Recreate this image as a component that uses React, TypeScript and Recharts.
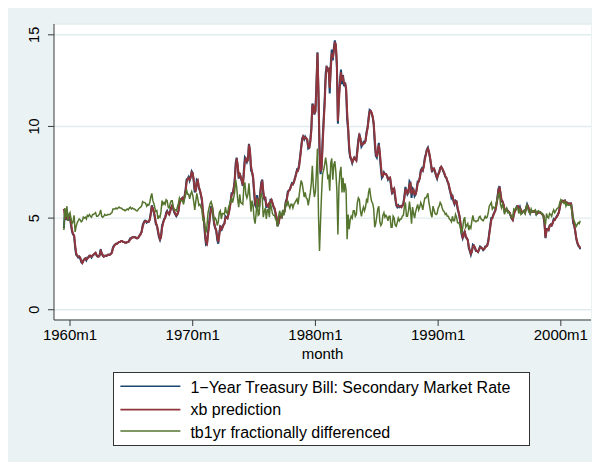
import type { JSX } from "react";
import { LineChart, Line, XAxis, YAxis, CartesianGrid } from "recharts";

// ─── data ─────────────────────────────────────────────────────────────────────
// monthly, 1959m7 .. 2001m8 (one row per year)

const firstMonth = -6; // months relative to 1960m1

const tb1yr: number[] = [
  4.45, 5.3, 4.9, 5.4, 4.85, 5.1,
  5.0, 4.6, 4.25, 4.1, 4.05, 3.4, 3.0, 2.95, 2.85, 2.9, 2.8, 2.6,
  2.55, 2.7, 2.75, 2.8, 2.7, 2.85, 2.85, 2.95, 2.95, 2.85, 2.95, 3.0,
  3.05, 3.1, 2.95, 2.9, 2.9, 3.0, 3.3, 3.05, 2.95, 2.9, 2.95, 2.95,
  2.95, 3.0, 3.0, 3.0, 3.05, 3.15, 3.4, 3.5, 3.55, 3.6, 3.6, 3.65,
  3.7, 3.7, 3.75, 3.75, 3.7, 3.7, 3.65, 3.65, 3.7, 3.7, 3.8, 3.9,
  3.9, 3.95, 3.95, 3.95, 3.95, 3.9, 3.9, 3.95, 4.05, 4.15, 4.25, 4.6,
  4.75, 4.85, 4.85, 4.75, 4.8, 4.8, 4.95, 5.3, 5.7, 5.5, 5.3, 5.0,
  4.65, 4.6, 4.25, 3.95, 3.8, 4.0, 4.6, 4.75, 4.95, 5.0, 5.3, 5.4,
  5.25, 5.2, 5.4, 5.6, 5.7, 5.5, 5.3, 5.2, 5.1, 5.2, 5.4, 5.85,
  6.0, 6.05, 6.1, 5.95, 6.2, 6.55, 7.1, 7.15, 7.25, 7.05, 7.25, 7.55,
  7.45, 7.0, 6.4, 6.55, 7.1, 7.05, 6.6, 6.5, 6.25, 5.95, 5.2, 4.85,
  4.05, 3.55, 3.6, 4.25, 4.7, 5.25, 5.6, 5.6, 5.1, 4.65, 4.45, 4.3,
  3.8, 3.6, 4.2, 4.6, 4.3, 4.5, 4.65, 4.7, 5.1, 5.05, 5.0, 5.25,
  5.55, 5.9, 6.35, 6.35, 6.6, 7.05, 8.0, 8.3, 7.8, 7.15, 7.45, 7.2,
  7.0, 6.75, 7.6, 8.3, 8.2, 8.05, 8.2, 9.05, 8.6, 7.6, 7.5, 7.2,
  6.4, 5.7, 5.6, 6.25, 5.8, 5.6, 6.4, 6.95, 7.1, 6.3, 6.05, 6.1,
  5.55, 5.7, 5.75, 5.5, 6.0, 6.0, 5.8, 5.6, 5.5, 5.25, 5.0, 4.55,
  4.75, 5.1, 5.1, 5.05, 5.3, 5.25, 5.45, 5.9, 6.05, 6.45, 6.5, 6.55,
  6.75, 6.9, 6.85, 7.0, 7.2, 7.4, 7.65, 7.6, 7.9, 8.35, 8.85, 9.35,
  9.45, 9.3, 9.45, 9.35, 9.25, 8.8, 8.85, 9.25, 9.9, 11.25, 11.1, 10.65,
  10.85, 12.35, 14.05, 11.6, 8.55, 7.4, 7.75, 9.25, 10.35, 11.4, 12.9, 13.3,
  13.0, 13.2, 11.8, 13.4, 14.2, 13.6, 14.3, 14.7, 14.4, 13.2, 10.15, 11.7,
  12.5, 13.1, 12.3, 12.8, 12.2, 12.4, 12.0, 10.4, 9.8, 8.7, 8.3, 8.2,
  8.0, 8.2, 8.3, 8.2, 8.15, 8.75, 9.3, 9.6, 9.3, 8.9, 9.0, 9.15,
  9.1, 9.25, 9.7, 9.95, 10.5, 10.9, 10.85, 10.7, 10.5, 10.1, 9.1, 8.4,
  8.3, 8.7, 9.1, 8.4, 7.7, 7.2, 7.3, 7.5, 7.4, 7.4, 7.3, 7.1,
  7.2, 7.2, 6.7, 6.3, 6.6, 6.6, 6.1, 5.7, 5.6, 5.7, 5.6, 5.65,
  5.6, 5.7, 5.8, 6.2, 6.7, 6.5, 6.3, 6.4, 7.0, 6.9, 6.1, 6.6,
  6.5, 6.2, 6.3, 6.6, 7.0, 7.0, 7.2, 7.6, 7.7, 7.6, 7.9, 8.3,
  8.5, 8.75, 8.85, 8.6, 8.3, 7.9, 7.5, 7.7, 7.7, 7.5, 7.3, 7.15,
  7.4, 7.5, 7.75, 7.8, 7.7, 7.55, 7.45, 7.25, 7.2, 7.0, 6.9, 6.6,
  6.4, 6.1, 6.2, 5.9, 5.75, 5.95, 5.9, 5.5, 5.3, 5.05, 4.6, 4.1,
  3.9, 4.1, 4.3, 3.95, 3.9, 3.8, 3.35, 3.2, 3.0, 3.2, 3.55, 3.5,
  3.35, 3.2, 3.2, 3.15, 3.3, 3.45, 3.4, 3.35, 3.25, 3.3, 3.45, 3.45,
  3.5, 3.75, 4.2, 4.6, 5.0, 5.0, 5.2, 5.3, 5.45, 5.75, 6.15, 6.6,
  6.75, 6.3, 5.9, 5.9, 5.7, 5.35, 5.4, 5.5, 5.4, 5.35, 5.25, 5.1,
  4.95, 4.9, 5.25, 5.4, 5.5, 5.65, 5.65, 5.45, 5.6, 5.4, 5.3, 5.35,
  5.4, 5.3, 5.55, 5.75, 5.6, 5.4, 5.25, 5.4, 5.35, 5.35, 5.35, 5.4,
  5.2, 5.25, 5.3, 5.3, 5.3, 5.25, 5.2, 5.1, 4.7, 3.9, 4.4, 4.4,
  4.35, 4.6, 4.65, 4.6, 4.75, 4.95, 4.9, 5.0, 5.1, 5.2, 5.3, 5.6,
  5.9, 5.95, 5.95, 5.9, 5.95, 5.8, 5.85, 5.8, 5.8, 5.8, 5.8, 5.4,
  4.75, 4.6, 4.3, 3.9, 3.65, 3.5, 3.45, 3.3,
];

const xbPred: number[] = [
  5.5, 5.1, 5.0, 5.25, 5.0, 5.05,
  5.05, 4.7, 4.35, 4.15, 4.05, 3.55, 3.1, 2.95, 2.9, 2.9, 2.85, 2.65,
  2.55, 2.65, 2.75, 2.8, 2.75, 2.8, 2.85, 2.95, 2.95, 2.9, 2.95, 3.0,
  3.05, 3.1, 3.0, 2.9, 2.9, 2.95, 3.2, 3.1, 3.0, 2.9, 2.95, 2.95,
  2.95, 3.0, 3.0, 3.0, 3.05, 3.1, 3.35, 3.45, 3.55, 3.6, 3.6, 3.65,
  3.7, 3.7, 3.75, 3.75, 3.7, 3.7, 3.65, 3.65, 3.7, 3.7, 3.75, 3.85,
  3.9, 3.95, 3.95, 3.95, 3.95, 3.9, 3.9, 3.95, 4.05, 4.1, 4.25, 4.5,
  4.7, 4.8, 4.85, 4.8, 4.8, 4.8, 4.9, 5.2, 5.6, 5.55, 5.35, 5.1,
  4.75, 4.6, 4.35, 4.05, 3.85, 3.95, 4.45, 4.7, 4.9, 5.0, 5.2, 5.35,
  5.3, 5.2, 5.35, 5.55, 5.7, 5.55, 5.35, 5.25, 5.15, 5.2, 5.35, 5.75,
  5.95, 6.05, 6.1, 6.0, 6.15, 6.45, 6.95, 7.15, 7.2, 7.1, 7.2, 7.5,
  7.45, 7.1, 6.55, 6.5, 6.95, 7.05, 6.7, 6.55, 6.3, 6.05, 5.4, 4.95,
  4.25, 3.7, 3.6, 4.1, 4.6, 5.1, 5.5, 5.6, 5.25, 4.75, 4.5, 4.35,
  3.95, 3.7, 4.05, 4.5, 4.4, 4.45, 4.6, 4.7, 5.0, 5.05, 5.0, 5.2,
  5.45, 5.8, 6.25, 6.35, 6.55, 6.95, 7.75, 8.25, 7.9, 7.3, 7.4, 7.25,
  7.05, 6.8, 7.4, 8.1, 8.25, 8.1, 8.15, 9.0, 8.7, 7.85, 7.55, 7.3,
  6.6, 5.9, 5.65, 6.1, 5.9, 5.65, 6.2, 6.8, 7.05, 6.5, 6.1, 6.1,
  5.7, 5.65, 5.75, 5.55, 5.9, 6.0, 5.85, 5.65, 5.55, 5.3, 5.05, 4.65,
  4.7, 5.0, 5.1, 5.05, 5.25, 5.25, 5.4, 5.8, 6.0, 6.35, 6.5, 6.55,
  6.7, 6.85, 6.85, 6.95, 7.15, 7.35, 7.6, 7.6, 7.8, 8.25, 8.75, 9.25,
  9.45, 9.35, 9.4, 9.35, 9.3, 8.9, 8.85, 9.15, 9.75, 11.1, 11.15, 10.75,
  10.8, 12.1, 14.0, 12.0, 9.0, 7.6, 7.65, 8.9, 10.1, 11.15, 12.55, 13.2,
  13.1, 13.15, 12.1, 13.1, 14.0, 13.75, 14.1, 14.6, 14.45, 13.4, 10.3, 11.4,
  12.3, 12.95, 12.5, 12.65, 12.35, 12.35, 12.1, 10.8, 9.95, 8.95, 8.4, 8.25,
  8.05, 8.15, 8.3, 8.25, 8.15, 8.6, 9.15, 9.5, 9.35, 9.0, 9.0, 9.1,
  9.1, 9.2, 9.6, 9.9, 10.35, 10.8, 10.85, 10.75, 10.55, 10.2, 9.35, 8.6,
  8.35, 8.6, 9.0, 8.6, 7.9, 7.35, 7.3, 7.45, 7.4, 7.4, 7.3, 7.15,
  7.15, 7.2, 6.85, 6.4, 6.5, 6.6, 6.25, 5.8, 5.65, 5.65, 5.65, 5.65,
  5.6, 5.65, 5.75, 6.1, 6.55, 6.55, 6.35, 6.4, 6.85, 6.9, 6.3, 6.45,
  6.55, 6.3, 6.3, 6.5, 6.9, 7.0, 7.15, 7.5, 7.65, 7.6, 7.8, 8.2,
  8.45, 8.7, 8.8, 8.65, 8.35, 8.0, 7.6, 7.65, 7.7, 7.55, 7.35, 7.2,
  7.35, 7.45, 7.7, 7.8, 7.7, 7.6, 7.45, 7.3, 7.2, 7.05, 6.9, 6.7,
  6.45, 6.2, 6.2, 6.0, 5.8, 5.9, 5.9, 5.6, 5.35, 5.1, 4.7, 4.25,
  3.95, 4.05, 4.25, 4.05, 3.9, 3.8, 3.45, 3.25, 3.05, 3.15, 3.45, 3.5,
  3.4, 3.25, 3.2, 3.15, 3.25, 3.4, 3.4, 3.35, 3.3, 3.3, 3.4, 3.45,
  3.5, 3.7, 4.1, 4.5, 4.9, 5.0, 5.15, 5.3, 5.4, 5.7, 6.05, 6.5,
  6.7, 6.4, 6.0, 5.9, 5.75, 5.45, 5.4, 5.45, 5.4, 5.35, 5.3, 5.15,
  5.0, 4.9, 5.15, 5.35, 5.45, 5.6, 5.65, 5.5, 5.55, 5.45, 5.3, 5.35,
  5.4, 5.3, 5.5, 5.7, 5.65, 5.45, 5.3, 5.35, 5.35, 5.35, 5.35, 5.4,
  5.25, 5.25, 5.3, 5.3, 5.3, 5.25, 5.2, 5.15, 4.75, 3.95, 4.3, 4.4,
  4.35, 4.55, 4.65, 4.6, 4.7, 4.9, 4.9, 5.0, 5.05, 5.15, 5.3, 5.55,
  5.85, 5.95, 5.95, 5.9, 5.95, 5.85, 5.85, 5.8, 5.8, 5.8, 5.8, 5.45,
  4.85, 4.65, 4.35, 3.95, 3.7, 3.55, 3.45, 3.35,
];

const tb1yrFd: number[] = [
  4.35, 5.55, 5.05, 5.65, 4.85, 5.2,
  5.3, 4.95, 4.7, 4.8, 5.15, 4.25, 4.55, 4.75, 4.85, 4.95, 4.9, 4.8,
  4.85, 5.05, 5.0, 5.05, 4.95, 5.15, 5.1, 5.2, 5.1, 5.05, 5.2, 5.2,
  5.25, 5.3, 5.1, 5.1, 5.15, 5.25, 5.45, 5.1, 5.05, 5.1, 5.2, 5.15,
  5.15, 5.2, 5.2, 5.2, 5.25, 5.3, 5.5, 5.5, 5.5, 5.55, 5.5, 5.55,
  5.6, 5.55, 5.55, 5.5, 5.45, 5.45, 5.4, 5.45, 5.5, 5.45, 5.55, 5.6,
  5.5, 5.55, 5.5, 5.5, 5.45, 5.4, 5.4, 5.5, 5.55, 5.6, 5.65, 5.9,
  5.85, 5.85, 5.8, 5.65, 5.75, 5.7, 5.85, 6.15, 6.35, 5.95, 5.8, 5.55,
  5.35, 5.4, 4.95, 5.1, 5.05, 5.35, 5.95, 5.75, 5.85, 5.75, 6.0, 5.95,
  5.6, 5.55, 5.8, 5.95, 5.95, 5.6, 5.45, 5.45, 5.4, 5.6, 5.8, 6.1,
  5.95, 5.95, 5.95, 5.75, 6.05, 6.25, 6.55, 6.3, 6.3, 6.05, 6.3, 6.45,
  6.25, 5.9, 5.45, 5.9, 6.35, 6.05, 5.7, 5.75, 5.6, 5.45, 4.9, 4.95,
  4.5, 4.2, 4.6, 5.3, 5.55, 5.8, 5.9, 5.7, 5.15, 4.9, 5.0, 4.9,
  4.6, 4.8, 5.3, 5.4, 4.95, 5.25, 5.25, 5.2, 5.6, 5.3, 5.25, 5.55,
  5.75, 5.9, 6.1, 5.85, 6.1, 6.4, 7.1, 6.7, 6.0, 5.6, 6.3, 5.85,
  5.8, 5.75, 6.7, 6.95, 6.3, 6.1, 6.3, 6.9, 6.1, 5.35, 5.95, 5.7,
  5.0, 4.7, 5.25, 6.05, 5.15, 5.2, 6.15, 6.3, 6.1, 5.05, 5.35, 5.55,
  4.95, 5.45, 5.45, 5.05, 5.85, 5.55, 5.25, 5.15, 5.15, 4.95, 4.85, 4.55,
  5.1, 5.4, 5.15, 5.05, 5.45, 5.15, 5.35, 5.85, 5.65, 5.95, 5.7, 5.55,
  5.75, 5.75, 5.55, 5.75, 5.85, 5.95, 6.05, 5.75, 6.2, 6.65, 7.05, 6.9,
  6.55, 6.15, 6.4, 6.1, 6.05, 5.7, 6.05, 6.4, 6.9, 7.85, 6.7, 6.15,
  6.45, 7.55, 8.8, 5.2, 3.2, 4.8, 6.3, 7.4, 7.6, 7.9, 8.3, 7.9,
  7.2, 7.3, 6.5, 8.0, 8.25, 7.1, 7.9, 8.1, 7.5, 6.5, 4.1, 6.7,
  7.5, 7.8, 6.4, 7.2, 6.4, 6.9, 6.5, 3.85, 5.2, 4.4, 4.9, 5.1,
  5.0, 5.4, 5.4, 5.1, 5.2, 5.85, 6.1, 6.0, 5.4, 5.1, 5.4, 5.6,
  5.4, 5.6, 6.0, 5.9, 6.4, 6.65, 6.2, 5.9, 5.8, 5.5, 4.5, 4.7,
  5.1, 5.5, 5.65, 4.8, 4.6, 4.7, 5.15, 5.3, 5.05, 5.15, 5.05, 4.85,
  5.1, 5.1, 4.5, 4.5, 5.1, 5.0, 4.6, 4.55, 4.75, 5.0, 4.85, 4.95,
  4.95, 5.1, 5.15, 5.6, 5.85, 5.1, 5.1, 5.4, 5.9, 5.4, 4.7, 5.6,
  5.25, 5.0, 5.35, 5.55, 5.75, 5.45, 5.6, 5.85, 5.7, 5.45, 5.8, 6.1,
  6.1, 6.2, 6.35, 5.85, 5.55, 5.2, 5.05, 5.65, 5.45, 5.25, 5.2, 5.25,
  5.55, 5.65, 5.85, 5.75, 5.55, 5.4, 5.35, 5.2, 5.25, 5.1, 5.1, 4.95,
  4.9, 4.8, 5.1, 4.85, 4.85, 5.2, 5.05, 4.75, 4.75, 4.65, 4.4, 4.15,
  4.45, 4.9, 5.05, 4.5, 4.6, 4.7, 4.35, 4.55, 4.45, 4.85, 5.15, 4.85,
  4.85, 4.8, 4.85, 4.85, 5.05, 5.1, 4.95, 4.9, 4.85, 4.95, 5.1, 5.0,
  5.05, 5.3, 5.65, 5.75, 5.85, 5.5, 5.6, 5.55, 5.6, 5.85, 6.05, 6.3,
  6.35, 5.75, 5.55, 5.75, 5.55, 5.2, 5.45, 5.55, 5.3, 5.35, 5.25, 5.15,
  5.05, 5.05, 5.5, 5.45, 5.5, 5.6, 5.5, 5.25, 5.55, 5.2, 5.25, 5.35,
  5.4, 5.25, 5.6, 5.7, 5.45, 5.3, 5.25, 5.5, 5.35, 5.4, 5.4, 5.45,
  5.2, 5.35, 5.4, 5.35, 5.35, 5.25, 5.25, 5.15, 4.9, 4.65, 5.25, 5.05,
  5.0, 5.25, 5.2, 5.1, 5.3, 5.45, 5.3, 5.4, 5.5, 5.55, 5.6, 5.85,
  6.0, 5.9, 5.85, 5.8, 5.9, 5.65, 5.8, 5.7, 5.7, 5.7, 5.7, 5.25,
  5.05, 4.85, 4.7, 4.55, 4.65, 4.75, 4.7, 4.85,
];

const xTicks = [0, 120, 240, 360, 480];
const xTickLabels = ["1960m1", "1970m1", "1980m1", "1990m1", "2000m1"];
const yTicks = [0, 5, 10, 15];

const seriesNames = [
  "1\u2212Year Treasury Bill: Secondary Market Rate",
  "xb prediction",
  "tb1yr fractionally differenced",
];

// ─── styling ──────────────────────────────────────────────────────────────────

const FONT = "'Liberation Sans', Arial, Helvetica, sans-serif";
const BG = "#EAF2F3";
const NAVY = "#1A476F";
const MAROON = "#90353B";
const GREEN = "#55752F";
const AXIS = "#3a3a3a";

const data = tb1yr.map((v, i) => ({
  m: firstMonth + i,
  tb1yr: v,
  xb: xbPred[i],
  fd: tb1yrFd[i],
}));

function XTick({ x, y, payload }: any): JSX.Element {
  const idx = xTicks.indexOf(payload.value);
  return (
    <text x={x} y={y + 10.5} textAnchor="middle" fontSize={15} fill="#000" fontFamily={FONT}>
      {xTickLabels[idx] ?? ""}
    </text>
  );
}

function YTick({ y, payload }: any): JSX.Element {
  const bx = 31.3;
  return (
    <text
      x={bx}
      y={y}
      transform={`rotate(-90, ${bx}, ${y})`}
      textAnchor="middle"
      fontSize={14.5}
      fill="#000"
      fontFamily={FONT}
    >
      {payload.value}
    </text>
  );
}

function StataLegend(): JSX.Element {
  const colors = [NAVY, MAROON, GREEN];
  const lineY = [14.3, 37.6, 59];
  const textY = [20.6, 43.3, 65.6];
  return (
    <div
      style={{
        position: "absolute",
        left: 105,
        top: 364,
        width: 417,
        height: 74,
        background: "#fff",
        border: "1px solid #333",
        boxSizing: "border-box",
      }}
    >
      <svg width={415} height={72} style={{ position: "absolute", left: 0, top: 0 }}>
        {seriesNames.map((name, i) => (
          <g key={name}>
            <line x1={6.4} x2={66.4} y1={lineY[i] - 1} y2={lineY[i] - 1} stroke={colors[i]} strokeWidth={1.6} />
            <text x={76.4} y={textY[i] - 1} fontSize={16} fill="#000" fontFamily={FONT}>
              {name}
            </text>
          </g>
        ))}
      </svg>
    </div>
  );
}

export default function App(): JSX.Element {
  return (
    <div style={{ position: "relative", width: 592, height: 454, background: BG, fontFamily: FONT }}>
      <LineChart
        width={592}
        height={454}
        data={data}
        margin={{ top: 16, right: 9, bottom: 112, left: 0 }}
      >
        <CartesianGrid vertical={false} stroke="#E1ECEE" strokeWidth={1.4} fill="#fff" />
        <XAxis
          dataKey="m"
          type="number"
          domain={[-15.65, 509.5]}
          ticks={xTicks}
          tick={<XTick />}
          tickSize={6}
          tickMargin={3}
          stroke={AXIS}
          height={30}
          label={({ viewBox }: any) => (
            <text
              x={viewBox.x + viewBox.width / 2}
              y={viewBox.y + 38.7}
              textAnchor="middle"
              fontSize={15}
              fill="#000"
              fontFamily={FONT}
            >
              month
            </text>
          )}
        />
        <YAxis
          type="number"
          domain={[-0.56, 15.59]}
          ticks={yTicks}
          tick={<YTick />}
          tickSize={6}
          width={46}
          stroke={AXIS}
          allowDataOverflow
        />
        <Line type="linear" dataKey="tb1yr" stroke={NAVY} strokeWidth={2} dot={false} isAnimationActive={false} />
        <Line type="linear" dataKey="xb" stroke={MAROON} strokeWidth={2} dot={false} isAnimationActive={false} />
        <Line type="linear" dataKey="fd" stroke={GREEN} strokeWidth={1.5} dot={false} isAnimationActive={false} />
      </LineChart>
      <StataLegend />
    </div>
  );
}
